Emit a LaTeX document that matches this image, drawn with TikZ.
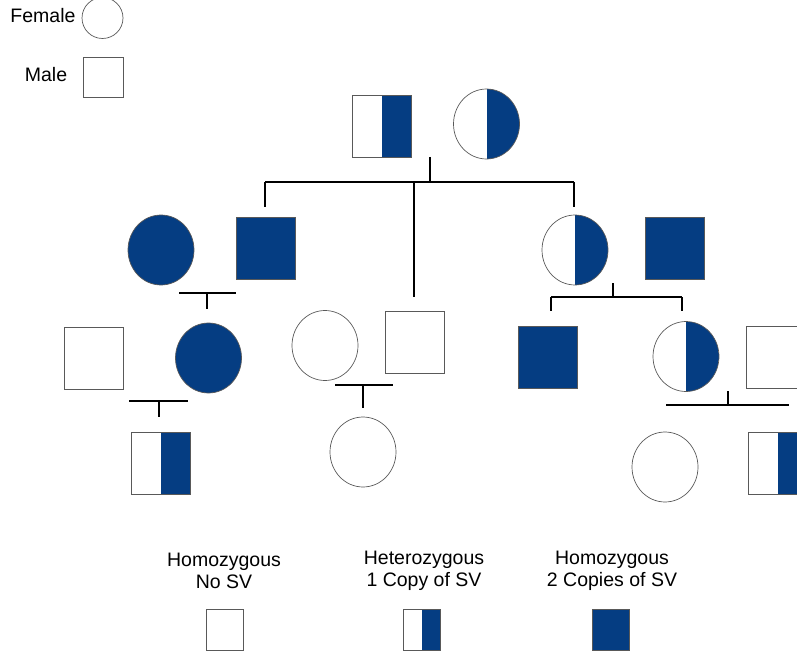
\documentclass[tikz,border=0pt]{standalone}
\usepackage{fontspec}
\setmainfont{Liberation Sans}
\usetikzlibrary{shapes.geometric}
\definecolor{svblue}{RGB}{5,61,130}
\begin{document}
\begin{tikzpicture}[x=1pt,y=-1pt,
male/.style = {draw=black!65, line width=0.7pt, minimum width=59pt, minimum height=62pt, inner sep=0pt},
female/.style = {ellipse, draw=black!65, line width=0.7pt, minimum width=66pt, minimum height=70pt, inner sep=0pt},
two/.style = {fill=svblue},
one/.style = {path picture={\fill[svblue] (path picture bounding box.north) rectangle (path picture bounding box.south east);}},
link/.style = {line width=1.6pt},
txt/.style = {font=\fontsize{19.5}{22.5}\selectfont, align=center},]
\useasboundingbox (0,0) rectangle (797,655);
% key
\node (Ftxt) at (43,16)[txt] {Female};
\node (Mtxt) at (46,75)[txt] {Male};
\node (Fkey) at (102.5,18)[female,minimum width=41pt,minimum height=41pt] {};
\node (Mkey) at (103,77)[male,minimum width=40pt,minimum height=40pt] {};
% generation 1
\node (M1) at (381.5,126)[male,one] {};
\node (F1) at (486.5,124)[female,one] {};
% generation 2
\node (F2) at (161,250)[female,two] {};
\node (M2) at (265.5,248.5)[male,two] {};
\node (F3) at (575,250)[female,one] {};
\node (M3) at (675,248.5)[male,two] {};
% generation 3
\node (M4) at (93.5,358)[male] {};
\node (F4) at (208.5,358)[female,two] {};
\node (F5) at (325,345.5)[female] {};
\node (M5) at (414.5,342)[male] {};
\node (M6) at (548,357)[male,two] {};
\node (F6) at (686,356.5)[female,one] {};
\node (M7) at (775.5,357)[male] {};
% generation 4
\node (M8) at (160.5,463)[male,one] {};
\node (F7) at (363,452)[female] {};
\node (F8) at (665,467)[female] {};
\node (M9) at (777.5,463.5)[male,one] {};
% lines
\coordinate (a1) at (430,157);
\coordinate (a2) at (430,182);
\coordinate (a3) at (265,182);
\coordinate (a4) at (574,182);
\coordinate (a5) at (414,182);
\coordinate (a6) at (265,207);
\coordinate (a7) at (574,207);
\coordinate (a8) at (414,297);
\draw[link] (a1)--(a2);
\draw[link] (a3)--(a4);
\draw[link] (a3)--(a6);
\draw[link] (a4)--(a7);
\draw[link] (a5)--(a8);
\coordinate (b1) at (179,293);
\coordinate (b2) at (236,293);
\coordinate (b3) at (207,293);
\coordinate (b4) at (207,309);
\draw[link] (b1)--(b2);
\draw[link] (b3)--(b4);
\coordinate (c1) at (129,401);
\coordinate (c2) at (188,401);
\coordinate (c3) at (159,401);
\coordinate (c4) at (159,417);
\draw[link] (c1)--(c2);
\draw[link] (c3)--(c4);
\coordinate (d1) at (335,385);
\coordinate (d2) at (393,385);
\coordinate (d3) at (363,385);
\coordinate (d4) at (363,408);
\draw[link] (d1)--(d2);
\draw[link] (d3)--(d4);
\coordinate (e1) at (613,283);
\coordinate (e2) at (613,297);
\coordinate (e3) at (551,297);
\coordinate (e4) at (682,297);
\coordinate (e5) at (551,311);
\coordinate (e6) at (682,311);
\draw[link] (e1)--(e2);
\draw[link] (e3)--(e4);
\draw[link] (e3)--(e5);
\draw[link] (e4)--(e6);
\coordinate (f1) at (728,391);
\coordinate (f2) at (728,405);
\coordinate (f3) at (666,405);
\coordinate (f4) at (789,405);
\draw[link] (f1)--(f2);
\draw[link] (f3)--(f4);
% legend
\node (T1) at (224,571)[txt] {Homozygous\\No SV};
\node (T2) at (424,571)[txt] {Heterozygous\\1 Copy of SV};
\node (T3) at (612,571)[txt] {Homozygous\\2 Copies of SV};
\node (L1) at (224.5,629.5)[male,minimum width=37pt,minimum height=41pt] {};
\node (L2) at (422,629.5)[male,one,minimum width=37pt,minimum height=41pt] {};
\node (L3) at (610.5,629.5)[male,two,minimum width=37pt,minimum height=41pt] {};
\end{tikzpicture}
\end{document}
